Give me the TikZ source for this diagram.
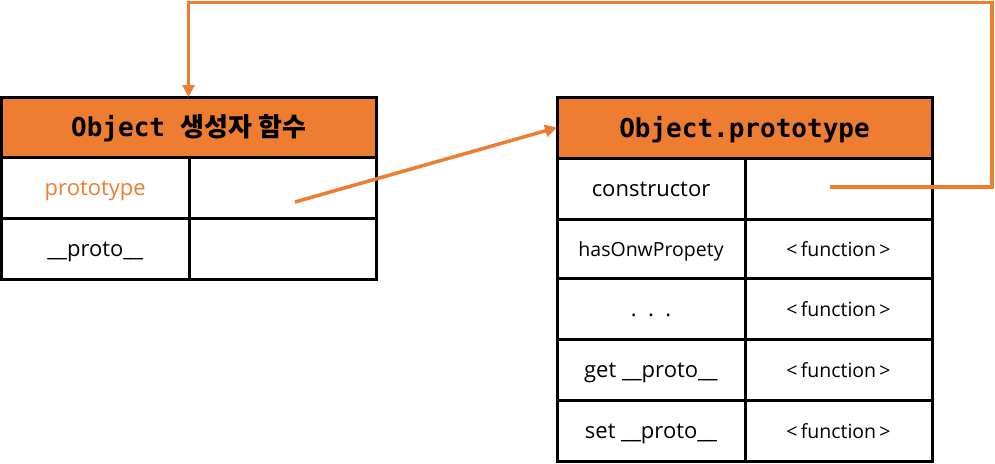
\documentclass[tikz,border=0pt]{standalone}
\usepackage{fontspec}
\setmainfont{Open Sans}
\newfontfamily\hdrlatin{DejaVu Sans Mono}
\newfontfamily\hdrkr{Noto Sans CJK KR}
\usetikzlibrary{arrows.meta}
\definecolor{ofc}{RGB}{237,125,49}
\begin{document}
\begin{tikzpicture}[x=1pt,y=-1pt,
  cell/.style={draw=black,line width=3pt,rectangle,inner sep=0pt,outer sep=0pt,text height=18pt,text depth=1.2pt,font=\fontsize{22}{26}\selectfont},
  hdr/.style={cell,fill=ofc,text height=20pt,text depth=1pt,font=\fontsize{26}{30}\selectfont\bfseries},
  small/.style={text height=16pt,text depth=1pt,font=\fontsize{19.5}{23}\selectfont},
  link/.style={draw=ofc,line width=3.5pt,-{Triangle[length=12pt,width=12pt]}}]
\useasboundingbox (0,0) rectangle (995,463);
% left table
\node[hdr,minimum width=374.5,minimum height=60] (lh) at (188.75,127) {\hdrlatin Object \hdrkr 생성자 함수};
\node[cell,minimum width=187.5,minimum height=61,text=ofc] (lp1) at (95.25,187.5) {prototype};
\node[cell,minimum width=187,minimum height=61] (lp2) at (282.5,187.5) {};
\node[cell,minimum width=187.5,minimum height=61] (lq1) at (95.25,248.5) {\_\_proto\_\_};
\node[cell,minimum width=187,minimum height=61] (lq2) at (282.5,248.5) {};
% right table
\node[hdr,minimum width=375,minimum height=61] (rh) at (744.5,127.5) {\hdrlatin Object.prototype};
\node[cell,minimum width=188,minimum height=61] (c1) at (651,188.5) {constructor};
\node[cell,minimum width=187,minimum height=61] (c2) at (838.5,188.5) {};
\node[cell,small,minimum width=188,minimum height=59] (h1) at (651,248.5) {hasOnwPropety};
\node[cell,small,minimum width=187,minimum height=59] (h2) at (838.5,248.5) {<\,function\,>};
\node[cell,minimum width=188,minimum height=61] (d1) at (651,308.5) {.\ \ .\ \ .};
\node[cell,small,minimum width=187,minimum height=61] (d2) at (838.5,308.5) {<\,function\,>};
\node[cell,minimum width=188,minimum height=61] (g1) at (651,369.5) {get \_\_proto\_\_};
\node[cell,small,minimum width=187,minimum height=61] (g2) at (838.5,369.5) {<\,function\,>};
\node[cell,minimum width=188,minimum height=61] (s1) at (651,430.5) {set \_\_proto\_\_};
\node[cell,small,minimum width=187,minimum height=61] (s2) at (838.5,430.5) {<\,function\,>};
% connectors
\coordinate (a1) at (295,202);
\coordinate (a2) at (830,187);
\draw[link] (a1) -- (rh.west);
\draw[link] (a2) -- (992,187) -- (992,2.5) -- (188.5,2.5) -- (lh.north -| 188.5,0);
\end{tikzpicture}
\end{document}
